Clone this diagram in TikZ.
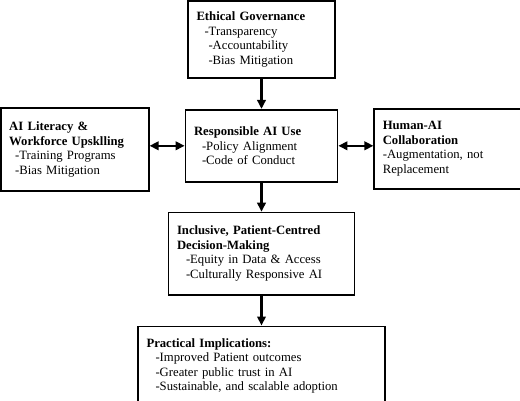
\documentclass[tikz,border=0pt]{standalone}
\usepackage{fontspec}
\setmainfont{Liberation Serif}
\usetikzlibrary{arrows.meta, positioning}
\tikzset{%
  frame_block/.style={%
    rectangle,%
    draw=black,%
    line width=1.8pt,%
    inner xsep=8.5pt,%
    inner ysep=0pt,%
    align=left,%
    font={\fontsize{12.7}{14.5}\selectfont},%
  },
  flow_path/.style={%
    line width=2.2pt,%
    -{Triangle[length=9pt, width=8.5pt]},%
  },
  both_path/.style={%
    line width=2.2pt,%
    {Triangle[length=9pt, width=8.5pt]}-{Triangle[length=9pt, width=8.5pt]},%
  },
}
\begin{document}
\begin{tikzpicture}[x=1pt, y=1pt]
    \useasboundingbox (0,0) rectangle (520,-401);
    \node [frame_block, text width=130pt, minimum height=77pt] (Gov) at (261.5,-39.5)
      {\textbf{Ethical Governance}\\
       \hspace*{8pt}-Transparency\\
       \hspace*{12pt}-Accountability\\
       \hspace*{12pt}-Bias Mitigation};
    \node [frame_block, text width=135pt, minimum height=72pt, below = 30pt of Gov] (Use)
      {\textbf{Responsible AI Use}\\
       \hspace*{8pt}-Policy Alignment\\
       \hspace*{8pt}-Code of Conduct};
    \node [frame_block, text width=131pt, minimum height=83pt, left = 35pt of Use, yshift=-3.5pt] (Literacy)
      {\textbf{AI Literacy \&}\\
       \textbf{Workforce Upsklling}\\
       \hspace*{6pt}-Training Programs\\
       \hspace*{6pt}-Bias Mitigation};
    \node [frame_block, text width=131pt, minimum height=80pt, right = 35pt of Use, yshift=-3pt] (Collab)
      {\textbf{Human-AI}\\
       \textbf{Collaboration}\\
       -Augmentation, not\\
       Replacement};
    \node [frame_block, text width=169pt, minimum height=82pt, below = 29pt of Use] (Inclusive)
      {\textbf{Inclusive, Patient-Centred}\\
       \textbf{Decision-Making}\\
       \hspace*{9pt}-Equity in Data \& Access\\
       \hspace*{9pt}-Culturally Responsive AI};
    \node [frame_block, text width=230pt, minimum height=79pt, below = 30pt of Inclusive] (Impl)
      {\textbf{Practical Implications:}\\
       \hspace*{9pt}-Improved Patient outcomes\\
       \hspace*{9pt}-Greater public trust in AI\\
       \hspace*{9pt}-Sustainable, and scalable adoption};

    \draw [flow_path]
      (Gov.south)
      --
      (Use.north);
    \draw [both_path]
      (Use.west)
      --
      (Use.west -| Literacy.east);
    \draw [both_path]
      (Use.east)
      --
      (Use.east -| Collab.west);
    \draw [flow_path]
      (Use.south)
      --
      (Inclusive.north);
    \draw [flow_path]
      (Inclusive.south)
      --
      (Impl.north);
  \end{tikzpicture}
\end{document}
